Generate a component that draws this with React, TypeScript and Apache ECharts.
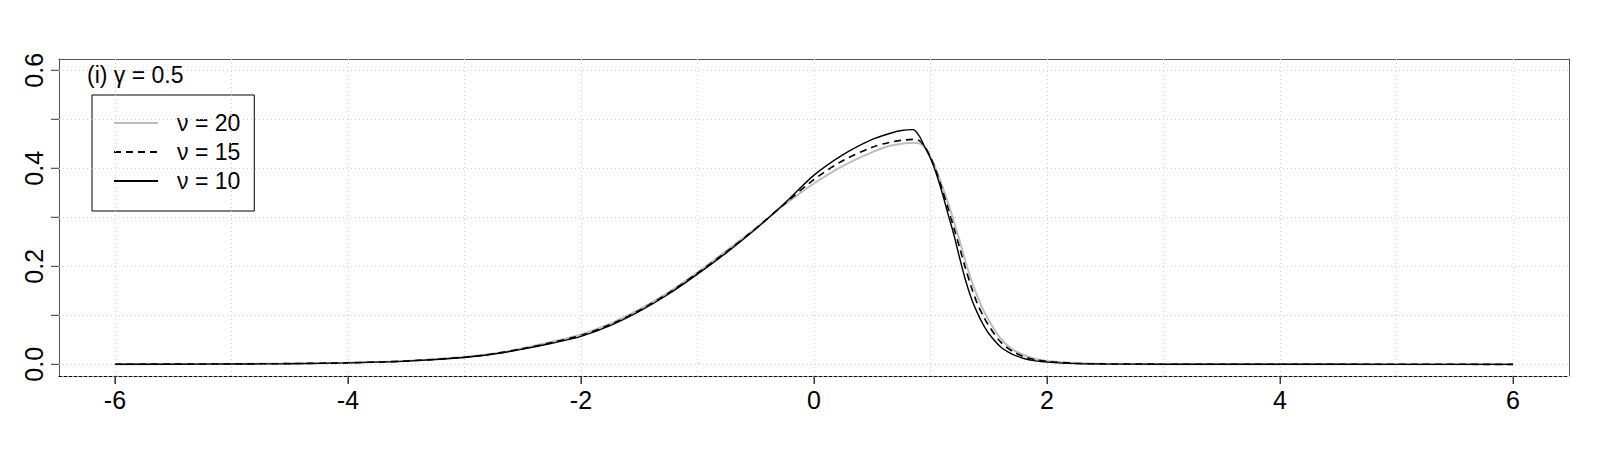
import React, { useEffect, useRef } from "react";
import * as echarts from "echarts";

const xs = [-6, -5.5, -5, -4.5, -4, -3.5, -3, -2.75, -2.5, -2.25, -2, -1.75, -1.5, -1.25, -1, -0.75, -0.5, -0.25, 0, 0.25, 0.5, 0.65, 0.75, 0.85, 0.9, 0.95, 1.0, 1.05, 1.1, 1.15, 1.2, 1.25, 1.3, 1.35, 1.4, 1.45, 1.5, 1.6, 1.7, 1.8, 1.9, 2.0, 2.25, 2.5, 3, 3.5, 4, 5, 6];

const nu10 = [0.0002, 0.0003, 0.0006, 0.0013, 0.003, 0.0065, 0.014, 0.021, 0.031, 0.043, 0.057, 0.079, 0.108, 0.143, 0.184, 0.228, 0.276, 0.329, 0.386, 0.428, 0.459, 0.471, 0.477, 0.479, 0.467, 0.444, 0.42, 0.389, 0.35, 0.307, 0.265, 0.217, 0.172, 0.135, 0.106, 0.082, 0.063, 0.036, 0.021, 0.012, 0.007, 0.0045, 0.0015, 0.0006, 0.0002, 0.0001, 0.00005, 0.00002, 0.00001];

const nu15 = [0.0003, 0.0004, 0.0008, 0.0015, 0.0032, 0.0068, 0.0145, 0.0215, 0.032, 0.0445, 0.059, 0.081, 0.11, 0.145, 0.186, 0.23, 0.277, 0.328, 0.377, 0.416, 0.443, 0.453, 0.457, 0.459, 0.457, 0.445, 0.422, 0.393, 0.357, 0.319, 0.279, 0.238, 0.196, 0.158, 0.125, 0.1, 0.079, 0.046, 0.027, 0.016, 0.0095, 0.006, 0.002, 0.0008, 0.0003, 0.00015, 0.00008, 0.00003, 0.00002];

const nu20 = [0.0003, 0.0005, 0.0009, 0.0017, 0.0034, 0.007, 0.015, 0.022, 0.033, 0.046, 0.061, 0.083, 0.112, 0.147, 0.188, 0.232, 0.278, 0.326, 0.369, 0.405, 0.433, 0.446, 0.45, 0.452, 0.451, 0.443, 0.424, 0.397, 0.364, 0.33, 0.292, 0.252, 0.21, 0.172, 0.14, 0.112, 0.09, 0.053, 0.031, 0.019, 0.011, 0.007, 0.0025, 0.001, 0.0003, 0.00015, 0.00008, 0.00003, 0.00002];

const seriesNames = ["\u03bd = 20", "\u03bd = 15", "\u03bd = 10"];
const xGrid = [-6, -5, -4, -3, -2, -1, 0, 1, 2, 3, 4, 5, 6];
const yGrid = [0, 0.1, 0.2, 0.3, 0.4, 0.5, 0.6];
const xTicks = [-6, -4, -2, 0, 2, 4, 6];
const yTicks = [0, 0.1, 0.2, 0.3, 0.4, 0.5, 0.6];
const xTickMin = -6;
const xTickMax = 6;
const xTickStep = 2;
const yTickMin = 0;
const yTickMax = 0.6;
const yTickStep = 0.1;
const yLabelStep = 0.2;
const titleText = "(i) \u03b3 = 0.5";

const X_MIN = -6.48;
const X_MAX = 6.48;
const Y_MIN = -0.0238;
const Y_MAX = 0.623;

const FONT = "Liberation Sans, Arial, Helvetica, sans-serif";

const W = 1600;
const H = 450;
const G_LEFT = 59;
const G_RIGHT = 31;
const G_TOP = 59;
const G_BOTTOM = 74;
const TICK_LEN = 8;

export default function App() {
  const ref = useRef<HTMLDivElement>(null);
  useEffect(() => {
    if (!ref.current) return;
    const chart = echarts.init(ref.current, null, { renderer: "svg" });
    const zip = (ys: number[]) => xs.map((x, i) => [x, ys[i]]);
    const gridStyle = { color: "#d0d0d0", width: 1, type: [1, 3] as any };
    const boxLine = { color: "#555", width: 1 };
    const pxX = (W - G_LEFT - G_RIGHT) / (X_MAX - X_MIN);
    const pxY = (H - G_TOP - G_BOTTOM) / (Y_MAX - Y_MIN);
    const labelFont = { fontFamily: FONT, fontSize: 25, color: "#000" };
    const hiddenAxis = { show: false };
    // tick items: [x, y, kind] kind 0 = x-axis tick, 1 = y-axis tick
    const tickData = [
      ...xTicks.map((v) => [v, Y_MIN, 0]),
      ...yTicks.map((v) => [X_MIN, v, 1]),
    ];
    const option: any = {
      animation: false,
      backgroundColor: "#ffffff",
      textStyle: { fontFamily: FONT, fontSize: 25 },
      title: {
        text: titleText,
        left: 87,
        top: 63,
        padding: 0,
        textStyle: { fontFamily: FONT, fontSize: 23, fontWeight: "normal", color: "#000" },
      },
      legend: {
        data: seriesNames,
        orient: "vertical",
        left: 92,
        top: 95,
        padding: [16, 14, 18, 21],
        itemWidth: 44,
        itemHeight: 24,
        itemGap: 5,
        backgroundColor: "#ffffff",
        borderColor: "#000",
        borderWidth: 1,
        borderRadius: 0,
        selectedMode: false,
        itemStyle: { color: "rgba(0,0,0,0)", borderColor: "rgba(0,0,0,0)", borderWidth: 0, opacity: 0 },
        textStyle: { fontFamily: FONT, fontSize: 23, color: "#000", lineHeight: 24, padding: [0, 0, 0, 14] },
      },
      grid: [
        { left: G_LEFT, right: G_RIGHT, top: G_TOP, bottom: G_BOTTOM, show: false },
        {
          left: G_LEFT + (xTickMin - X_MIN) * pxX,
          right: G_RIGHT + (X_MAX - xTickMax) * pxX,
          top: G_TOP,
          bottom: G_BOTTOM,
          show: false,
        },
        {
          left: G_LEFT,
          right: G_RIGHT,
          top: G_TOP + (Y_MAX - yTickMax) * pxY,
          bottom: G_BOTTOM + (yTickMin - Y_MIN) * pxY,
          show: false,
        },
      ],
      xAxis: [
        {
          gridIndex: 0,
          type: "value",
          min: X_MIN,
          max: X_MAX,
          position: "bottom",
          axisLine: { show: true, onZero: false, lineStyle: { color: "#000", width: 1, type: [3, 2] } },
          splitLine: { show: false },
          axisTick: { show: false },
          axisLabel: { show: false },
        },
        {
          gridIndex: 0,
          type: "value",
          min: X_MIN,
          max: X_MAX,
          position: "top",
          axisLine: { show: true, onZero: false, lineStyle: boxLine },
          axisTick: { show: false },
          axisLabel: { show: false },
          splitLine: { show: false },
        },
        {
          gridIndex: 1,
          type: "value",
          min: xTickMin,
          max: xTickMax,
          interval: xTickStep,
          position: "bottom",
          axisLine: { show: false, onZero: false },
          splitLine: { show: false },
          axisTick: { show: true, length: TICK_LEN, inside: false, lineStyle: { color: "#444", width: 1 } },
          axisLabel: {
            show: true,
            margin: 11,
            ...labelFont,
            formatter: (v: number) => String(v),
          },
        },
        { gridIndex: 2, type: "value", min: X_MIN, max: X_MAX, ...hiddenAxis },
      ],
      yAxis: [
        {
          gridIndex: 0,
          type: "value",
          min: Y_MIN,
          max: Y_MAX,
          position: "left",
          axisLine: { show: true, onZero: false, lineStyle: boxLine },
          splitLine: { show: false },
          axisTick: { show: false },
          axisLabel: { show: false },
        },
        {
          gridIndex: 0,
          type: "value",
          min: Y_MIN,
          max: Y_MAX,
          position: "right",
          axisLine: { show: true, onZero: false, lineStyle: boxLine },
          axisTick: { show: false },
          axisLabel: { show: false },
          splitLine: { show: false },
        },
        { gridIndex: 1, type: "value", min: Y_MIN, max: Y_MAX, ...hiddenAxis },
        {
          gridIndex: 2,
          type: "value",
          min: yTickMin,
          max: yTickMax,
          interval: yTickStep,
          position: "left",
          axisLine: { show: false, onZero: false },
          splitLine: { show: false },
          axisTick: { show: false },
          axisLabel: {
            show: true,
            rotate: 90,
            margin: 13,
            ...labelFont,
            formatter: (v: number) => {
              const k = Math.round(v / yTickStep);
              const every = Math.round(yLabelStep / yTickStep);
              return k % every === 0 ? v.toFixed(1) : "";
            },
          },
        },
      ],
      series: [
        {
          name: "grid",
          type: "line",
          xAxisIndex: 0,
          yAxisIndex: 0,
          data: [],
          silent: true,
          z: 1,
          markLine: {
            silent: true,
            symbol: "none",
            label: { show: false },
            animation: false,
            data: [
              ...xGrid.map((v) => ({ xAxis: v, lineStyle: gridStyle })),
              ...yGrid.map((v) => ({ yAxis: v, lineStyle: gridStyle })),
            ],
          },
        },
        {
          name: "ticks",
          type: "custom",
          xAxisIndex: 0,
          yAxisIndex: 0,
          silent: true,
          clip: false,
          z: 2,
          data: tickData,
          encode: { x: 0, y: 1 },
          renderItem: (params: any, api: any) => {
            const kind = api.value(2);
            const p = api.coord([api.value(0), api.value(1)]);
            const shape =
              kind === 0
                ? { x1: p[0], y1: p[1], x2: p[0], y2: p[1] + TICK_LEN }
                : { x1: p[0], y1: p[1], x2: p[0] - TICK_LEN, y2: p[1] };
            return {
              type: "line",
              shape,
              style: { stroke: "#333", lineWidth: 1 },
            };
          },
        },
        {
          name: seriesNames[0],
          type: "line",
          xAxisIndex: 0,
          yAxisIndex: 0,
          data: zip(nu20),
          symbol: "none",
          smooth: 0.3,
          z: 3,
          lineStyle: { color: "#bdbdbd", width: 2, type: "solid" },
          itemStyle: { color: "#bdbdbd" },
        },
        {
          name: seriesNames[1],
          type: "line",
          xAxisIndex: 0,
          yAxisIndex: 0,
          data: zip(nu15),
          symbol: "none",
          smooth: 0.3,
          z: 4,
          lineStyle: { color: "#000", width: 1.6, type: [7, 5] },
          itemStyle: { color: "#000" },
        },
        {
          name: seriesNames[2],
          type: "line",
          xAxisIndex: 0,
          yAxisIndex: 0,
          data: zip(nu10),
          symbol: "none",
          smooth: 0.3,
          z: 5,
          lineStyle: { color: "#000", width: 1.4, type: "solid" },
          itemStyle: { color: "#000" },
        },
      ],
    };
    chart.setOption(option);
    return () => chart.dispose();
  }, []);
  return (
    <div
      ref={ref}
      style={{ position: "fixed", left: 0, top: 0, width: W, height: H }}
    />
  );
}
